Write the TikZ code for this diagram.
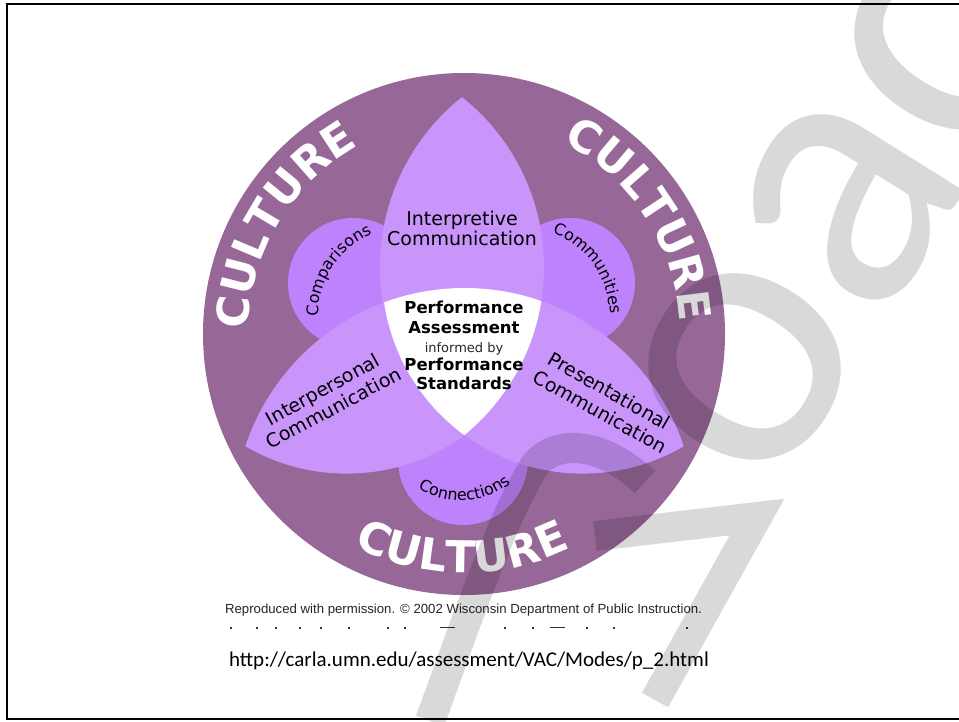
\documentclass[tikz,border=0pt]{standalone}
\usepackage{fontspec}
\setmainfont{DejaVu Sans}
\newfontfamily\dvs{DejaVu Sans}
\newfontfamily\carl{Carlito}
\newfontfamily\libs{Liberation Sans}
\usetikzlibrary{decorations.text}
\definecolor{outerp}{RGB}{151,103,151}
\definecolor{petal}{RGB}{201,149,251}
\definecolor{smallc}{RGB}{190,130,252}
\newcommand{\culfont}{\dvs\bfseries\fontsize{44}{44}\selectfont}
\newcommand{\smallfont}{\dvs\fontsize{16}{16}\selectfont}
\tikzset{
  lbl/.style={inner sep=0pt, anchor=base, text=black, font=\dvs\fontsize{19}{20}\selectfont},
  ctr/.style={inner sep=0pt, anchor=base, text=black, font=\dvs\bfseries\fontsize{16.5}{17}\selectfont},
  ctrsmall/.style={inner sep=0pt, anchor=base, text=black!85, font=\dvs\fontsize{13}{13}\selectfont},
  culture/.style={decorate, decoration={text along path, text={|\culfont|CULTURE}, text align=center, text color=white}},
  curvelbl/.style={decorate, decoration={text along path, text={|\smallfont|#1}, text align=center, text color=black}},
  dotmark/.style={fill=black!80},
  wmstroke/.style={draw=black, draw opacity=0.15, line width=30pt, line join=miter, miter limit=10}
}
\begin{document}
\begin{tikzpicture}[x=1pt,y=1pt]
\useasboundingbox (0,0) rectangle (959,-721);
\clip (0,0) rectangle (959,-721);
\fill[white] (0,0) rectangle (959,-721);
\draw[line width=2pt] (7,-3.5) rectangle (975,-719);
\fill[outerp] (464,-334) circle[radius=261];
\fill[smallc] (353,-283) circle[radius=65];
\fill[smallc] (570,-283) circle[radius=65];
\fill[smallc] (463,-460) circle[radius=65];
\begin{scope}
  \clip (327,-267) circle[radius=217];
  \fill[petal] (597,-267) circle[radius=217];
\end{scope}
\begin{scope}
  \clip (346.5,-273.1) circle[radius=200.5];
  \fill[petal] (464.5,-518.8) circle[radius=230.8];
\end{scope}
\begin{scope}
  \clip (582.5,-273.1) circle[radius=200.5];
  \fill[petal] (464.5,-518.8) circle[radius=230.8];
\end{scope}
\begin{scope}
  \clip (327,-267) circle[radius=217];
  \clip (597,-267) circle[radius=217];
  \clip (346.5,-273.1) circle[radius=200.5];
  \clip (582.5,-273.1) circle[radius=200.5];
  \fill[white] (464.5,-518.8) circle[radius=230.8];
\end{scope}
\path[culture] (464,-334) ++(199:216) arc[start angle=199, end angle=99, radius=216];
\path[culture] (464,-334) ++(83:216) arc[start angle=83, end angle=-17, radius=216];
\path[culture] (464,-334) ++(219.5:239) arc[start angle=219.5, end angle=319.5, radius=239];
\path[curvelbl=Comparisons] (407,-316) ++(196.5:89) arc[start angle=196.5, end angle=96.5, radius=89];
\path[curvelbl=Communities] (521,-316) ++(85.3:89) arc[start angle=85.3, end angle=-14.7, radius=89];
\path[curvelbl=Connections] (460.5,-419.6) ++(213.4:81) arc[start angle=213.4, end angle=333.4, radius=81];
\node[lbl] (interp1) at (462,-225) {Interpretive};
\node[lbl] (interp2) at (462,-245) {Communication};
\node[lbl, rotate=29] (inter1) at (326,-395.5) {Interpersonal};
\node[lbl, rotate=28] (inter2) at (337,-414) {Communication};
\node[lbl, rotate=-29.5] (pres1) at (606,-397) {Presentational};
\node[lbl, rotate=-29] (pres2) at (597,-418) {Communication};
\node[ctr] (c1) at (464,-313) {Performance};
\node[ctr] (c2) at (464,-333) {Assessment};
\node[ctrsmall] (c3) at (464,-352) {informed by};
\node[ctr] (c4) at (464,-370) {Performance};
\node[ctr] (c5) at (464,-389) {Standards};
\node[inner sep=0pt, anchor=base, text=black!85, font=\libs\fontsize{13.2}{14}\selectfont] (credit) at (463.5,-613) {Reproduced with permission. \textcopyright{} 2002 Wisconsin Department of Public Instruction.};
\foreach \mx in {231,257,276,300,321,349,388,405,505,533,587,614,687}
  \fill[dotmark] (\mx-0.8,-626.5) rectangle (\mx+0.8,-628.5);
\fill[dotmark] (440,-626.5) rectangle (455,-628);
\fill[dotmark] (550,-626.5) rectangle (565,-628);
\node[inner sep=0pt, anchor=base, text=black, font=\carl\fontsize{21}{22}\selectfont] (url) at (469,-666) {http://carla.umn.edu/assessment/VAC/Modes/p\_2.html};
% watermark: letters o, a, c of the large grey word
\begin{scope}
  \clip (-153,76) -- (1543,-984) -- (2603,712) -- (907,1772) -- cycle;
  \node[anchor=base west, inner sep=0pt, rotate=58, text=black, text opacity=0.15, font=\carl\fontsize{390}{390}\selectfont] (wm) at (364,-1153) {Approach};
\end{scope}
% watermark: lower strokes
\draw[wmstroke] (430,-721) .. controls (460,-640) and (500,-520) .. (535,-465) .. controls (555,-440) and (600,-440) .. (645,-482);
\draw[wmstroke] (595,-536) -- (757,-517) -- (655,-700);
\end{tikzpicture}
\end{document}
